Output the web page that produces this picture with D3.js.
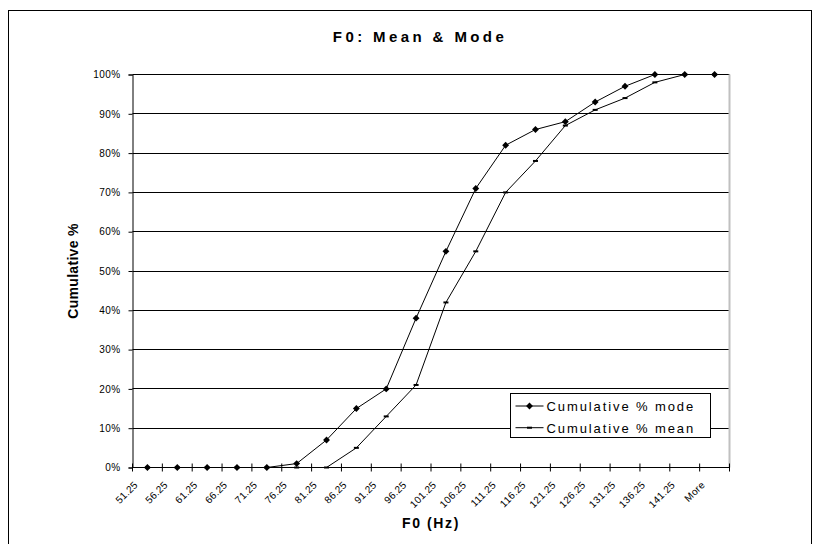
<!DOCTYPE html>
<html>
<head>
<meta charset="utf-8">
<style>
  body { margin: 0; background: #fff; }
  text { font-family: "Liberation Sans", Arial, sans-serif; fill: #000; }
</style>
<script src="https://d3js.org/d3.v7.min.js"></script>
</head>
<body>
<div id="chart"></div>
<script>
// bins (upper edges) of the F0 histogram
var categories = ["51.25", "56.25", "61.25", "66.25", "71.25", "76.25", "81.25", "86.25",
  "91.25", "96.25", "101.25", "106.25", "111.25", "116.25", "121.25", "126.25",
  "131.25", "136.25", "141.25", "More"];

// cumulative percentages
var cumMode = [0, 0, 0, 0, 0, 1, 7, 15, 20, 38, 55, 71, 82, 86, 88, 93, 97, 100, 100, 100];
var cumMean = [0, 0, 0, 0, 0, 0, 0, 5, 13, 21, 42, 55, 70, 78, 87, 91, 94, 98, 100, 100];

var yTicks = [0, 10, 20, 30, 40, 50, 60, 70, 80, 90, 100];
var seriesNames = ["Cumulative % mode", "Cumulative % mean"];

var w = 819,
    h = 544;

// plot area edges ("top" is taken by window.top, so prefix them)
var pLeft = 132.5, pRight = 729.5, pTop = 74.5, pBottom = 467.5;

var svg = d3.select("#chart")
        .append("svg")
        .attr("width", w)
        .attr("height", h);

// chart frame
svg.append("rect")
   .attr("x", 8.5).attr("y", 10.5)
   .attr("width", 803).attr("height", 560)
   .attr("fill", "#fff")
   .attr("stroke", "#000")
   .attr("stroke-width", 1);

var x = d3.scaleBand()
          .domain(categories)
          .range([pLeft, pRight])
          .padding(0);

var y = d3.scaleLinear()
          .domain([0, 100])
          .range([pBottom, pTop]);

var cx = function(i) { return x(categories[i]) + x.bandwidth() / 2; };

// gridlines
svg.append("g")
   .selectAll("line")
   .data(yTicks.filter(function(d) { return d > 0; }))
   .enter().append("line")
   .attr("x1", pLeft).attr("x2", pRight)
   .attr("y1", function(d) { return Math.round(y(d) - 0.5) + 0.5; })
   .attr("y2", function(d) { return Math.round(y(d) - 0.5) + 0.5; })
   .attr("stroke", "#000")
   .attr("stroke-width", 1);

// plot area right border (grey)
svg.append("line")
   .attr("x1", pRight).attr("x2", pRight)
   .attr("y1", pTop).attr("y2", pBottom)
   .attr("stroke", "#c0c0c0")
   .attr("stroke-width", 2);

// y axis
var yAxis = d3.axisLeft(y)
              .tickValues(yTicks)
              .tickSize(4)
              .tickPadding(8)
              .tickFormat(function(d) { return d + "%"; });

var gy = svg.append("g")
   .attr("transform", "translate(" + pLeft + ",0)")
   .call(yAxis);
gy.select(".domain").attr("stroke", "#000");
gy.selectAll(".tick line").attr("stroke", "#000");
gy.selectAll(".tick text")
  .attr("font-family", "Liberation Sans, Arial, sans-serif")
  .attr("font-size", 10)
  .attr("letter-spacing", 0.4)
  .attr("fill", "#000");

// x axis: ticks between categories
var gx = svg.append("g");
gx.append("line")
  .attr("x1", pLeft).attr("x2", pRight)
  .attr("y1", pBottom).attr("y2", pBottom)
  .attr("stroke", "#000");

var edges = categories.map(function(c) { return x(c); }).concat([pRight]);
gx.selectAll("line.tk")
  .data(edges)
  .enter().append("line")
  .attr("class", "tk")
  .attr("x1", function(d) { return d; })
  .attr("x2", function(d) { return d; })
  .attr("y1", pBottom - 4)
  .attr("y2", pBottom + 4)
  .attr("stroke", "#000");

gx.selectAll("text")
  .data(categories)
  .enter().append("text")
  .attr("transform", function(d, i) {
     return "translate(" + (cx(i) - 9) + "," + (pBottom + 18) + ") rotate(-45)";
  })
  .attr("text-anchor", "end")
  .attr("font-size", 10)
  .attr("letter-spacing", 0.3)
  .text(function(d) { return d; });

// lines
var line = d3.line()
             .x(function(d, i) { return cx(i); })
             .y(function(d) { return y(d); });

svg.append("path")
   .datum(cumMean)
   .attr("d", line)
   .attr("fill", "none")
   .attr("stroke", "#000")
   .attr("stroke-width", 1);

svg.append("path")
   .datum(cumMode)
   .attr("d", line)
   .attr("fill", "none")
   .attr("stroke", "#000")
   .attr("stroke-width", 1);

// markers
var diamond = d3.symbol().type(d3.symbolDiamond2).size(30);

svg.append("g")
   .selectAll("rect")
   .data(cumMean)
   .enter().append("rect")
   .attr("x", function(d, i) { return cx(i) - 2.5; })
   .attr("y", function(d) { return y(d) - 1; })
   .attr("width", 5)
   .attr("height", 2)
   .attr("fill", "#000");

svg.append("g")
   .selectAll("path")
   .data(cumMode)
   .enter().append("path")
   .attr("d", diamond)
   .attr("transform", function(d, i) { return "translate(" + cx(i) + "," + y(d) + ")"; })
   .attr("fill", "#000");

// title
svg.append("text")
   .attr("x", 420).attr("y", 42)
   .attr("text-anchor", "middle")
   .attr("font-size", 15)
   .attr("font-weight", "bold")
   .attr("letter-spacing", 3.4)
   .text("F0: Mean & Mode");

// axis titles
svg.append("text")
   .attr("x", 431).attr("y", 528)
   .attr("text-anchor", "middle")
   .attr("font-size", 14)
   .attr("font-weight", "bold")
   .attr("letter-spacing", 1.6)
   .text("F0 (Hz)");

svg.append("text")
   .attr("transform", "translate(78," + ((pTop + pBottom) / 2) + ") rotate(-90)")
   .attr("text-anchor", "middle")
   .attr("font-size", 14)
   .attr("font-weight", "bold")
   .attr("letter-spacing", 0.3)
   .text("Cumulative %");

// legend
var lg = svg.append("g").attr("transform", "translate(510.5,393.5)");
lg.append("rect")
  .attr("width", 200).attr("height", 44)
  .attr("fill", "#fff")
  .attr("stroke", "#000");

var items = lg.selectAll("g.item")
  .data(seriesNames)
  .enter().append("g")
  .attr("class", "item")
  .attr("transform", function(d, i) { return "translate(0," + (12.5 + i * 21.7) + ")"; });

items.append("line")
  .attr("x1", 5).attr("x2", 33)
  .attr("y1", 0).attr("y2", 0)
  .attr("stroke", "#000");

items.filter(function(d, i) { return i === 0; })
  .append("path")
  .attr("d", diamond)
  .attr("transform", "translate(19,0)")
  .attr("fill", "#000");

items.filter(function(d, i) { return i === 1; })
  .append("rect")
  .attr("x", 16.5).attr("y", -1)
  .attr("width", 5).attr("height", 2)
  .attr("fill", "#000");

items.append("text")
  .attr("x", 36).attr("y", 5)
  .attr("font-size", 13)
  .attr("letter-spacing", 1.9)
  .text(function(d) { return d; });
</script>
</body>
</html>
